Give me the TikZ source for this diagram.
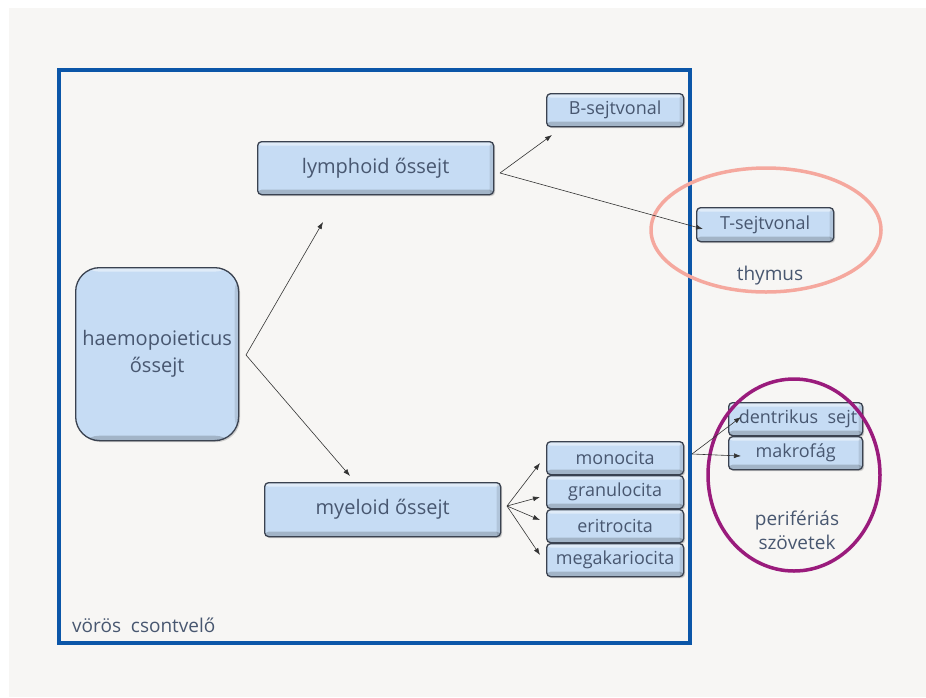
\documentclass[tikz,border=0pt]{standalone}
\usepackage{fontspec}
\setmainfont{Open Sans}
\usetikzlibrary{shadows,arrows.meta,calc}
\definecolor{bg}{HTML}{F7F6F4}
\definecolor{frameblue}{HTML}{0B56A8}
\definecolor{boxfill}{HTML}{C6DCF4}
\definecolor{boxedge}{HTML}{3A4250}
\definecolor{txt}{HTML}{485770}
\definecolor{thy}{HTML}{F5A89E}
\definecolor{peri}{HTML}{9A1B7C}
\tikzset{
  cellbox/.style={draw=boxedge, line width=1.3pt, rounded corners=4pt, fill=boxfill,
    path picture={
      \fill[white,opacity=0.45] (path picture bounding box.north west) rectangle ([yshift=-4pt]path picture bounding box.north east);
      \fill[black,opacity=0.18] ([yshift=5pt]path picture bounding box.south west) rectangle (path picture bounding box.south east);
      \fill[black,opacity=0.10] ([xshift=-4pt]path picture bounding box.north east) rectangle (path picture bounding box.south east);
    },
    drop shadow={shadow xshift=1.5pt, shadow yshift=-1.5pt, opacity=0.35},
    text=txt, font=\fontsize{18}{22}\selectfont, inner sep=0pt, anchor=north west},
  bigbox/.style={cellbox, font=\fontsize{20}{24}\selectfont},
  lbl/.style={text=txt, font=\fontsize{19}{22}\selectfont, inner sep=0pt},
  arr/.style={draw=black!80, line width=0.6pt, -{Latex[length=7pt,width=5pt]}}
}
\begin{document}
\begin{tikzpicture}[x=1pt,y=-1pt]
\useasboundingbox (0,0) rectangle (926,697);
\fill[white] (0,0) rectangle (926,697);
\fill[bg] (9,8) rectangle (926,697);
\draw[frameblue, line width=4.5pt] (59,70) rectangle (690,643);
\node[lbl, anchor=west] (bm) at (72,625) {vörös\ \ csontvelő};

\node[bigbox, minimum width=163pt, minimum height=173pt, rounded corners=24pt, align=center, font=\fontsize{20}{27}\selectfont] (h) at (75,267) {haemopoieticus\\őssejt};
\node[bigbox, minimum width=236pt, minimum height=53pt] (l) at (257,141) {lymphoid őssejt};
\node[bigbox, minimum width=236pt, minimum height=54pt] (m) at (264,482) {myeloid őssejt};
\node[cellbox, minimum width=137pt, minimum height=33pt] (b) at (546,93) {B-sejtvonal};
\node[cellbox, minimum width=137pt, minimum height=34pt] (t) at (696,207) {T-sejtvonal};
\node[cellbox, minimum width=137pt, minimum height=33pt] (mo) at (546,441) {monocita};
\node[cellbox, minimum width=137pt, minimum height=33pt] (gr) at (546,475) {granulocita};
\node[cellbox, minimum width=137pt, minimum height=33pt] (er) at (546,509) {eritrocita};
\node[cellbox, minimum width=137pt, minimum height=33pt] (me) at (546,543) {megakariocita};
\node[cellbox, minimum width=134pt, minimum height=33pt] (de) at (728,402) {\ dentrikus\ \ sejt};
\node[cellbox, minimum width=134pt, minimum height=33pt] (ma) at (728,436) {makrofág};

\draw[thy, line width=3.5pt] (766,230) ellipse [x radius=115pt, y radius=62pt];
\node[lbl] (thl) at (770,276) {thymus};
\draw[peri, line width=3.5pt] (794,475) ellipse [x radius=86pt, y radius=96pt];
\node[lbl, align=center, font=\fontsize{19}{24}\selectfont] (pl) at (797,530) {perifériás\\szövetek};

\coordinate (h0) at (246,355);
\coordinate (l0) at (500,173);
\coordinate (m0) at (507,506);
\coordinate (mo0) at (692,454);
\coordinate (lt) at (323,222);
\coordinate (mt) at (350,476);
\coordinate (bt) at (552,135);
\coordinate (tt) at (703,229);
\coordinate (t1) at (540,463);
\coordinate (t2) at (540,497);
\coordinate (t3) at (540,520);
\coordinate (t4) at (540,555);
\coordinate (dt) at (741,417);
\coordinate (mat) at (741,456);
\draw[arr] (h0) -- (lt);
\draw[arr] (h0) -- (mt);
\draw[arr] (l0) -- (bt);
\draw[arr] (l0) -- (tt);
\foreach \e in {t1,t2,t3,t4} \draw[arr] (m0) -- (\e);
\draw[arr] (mo0) -- (dt);
\draw[arr] (mo0) -- (mat);
\end{tikzpicture}
\end{document}
